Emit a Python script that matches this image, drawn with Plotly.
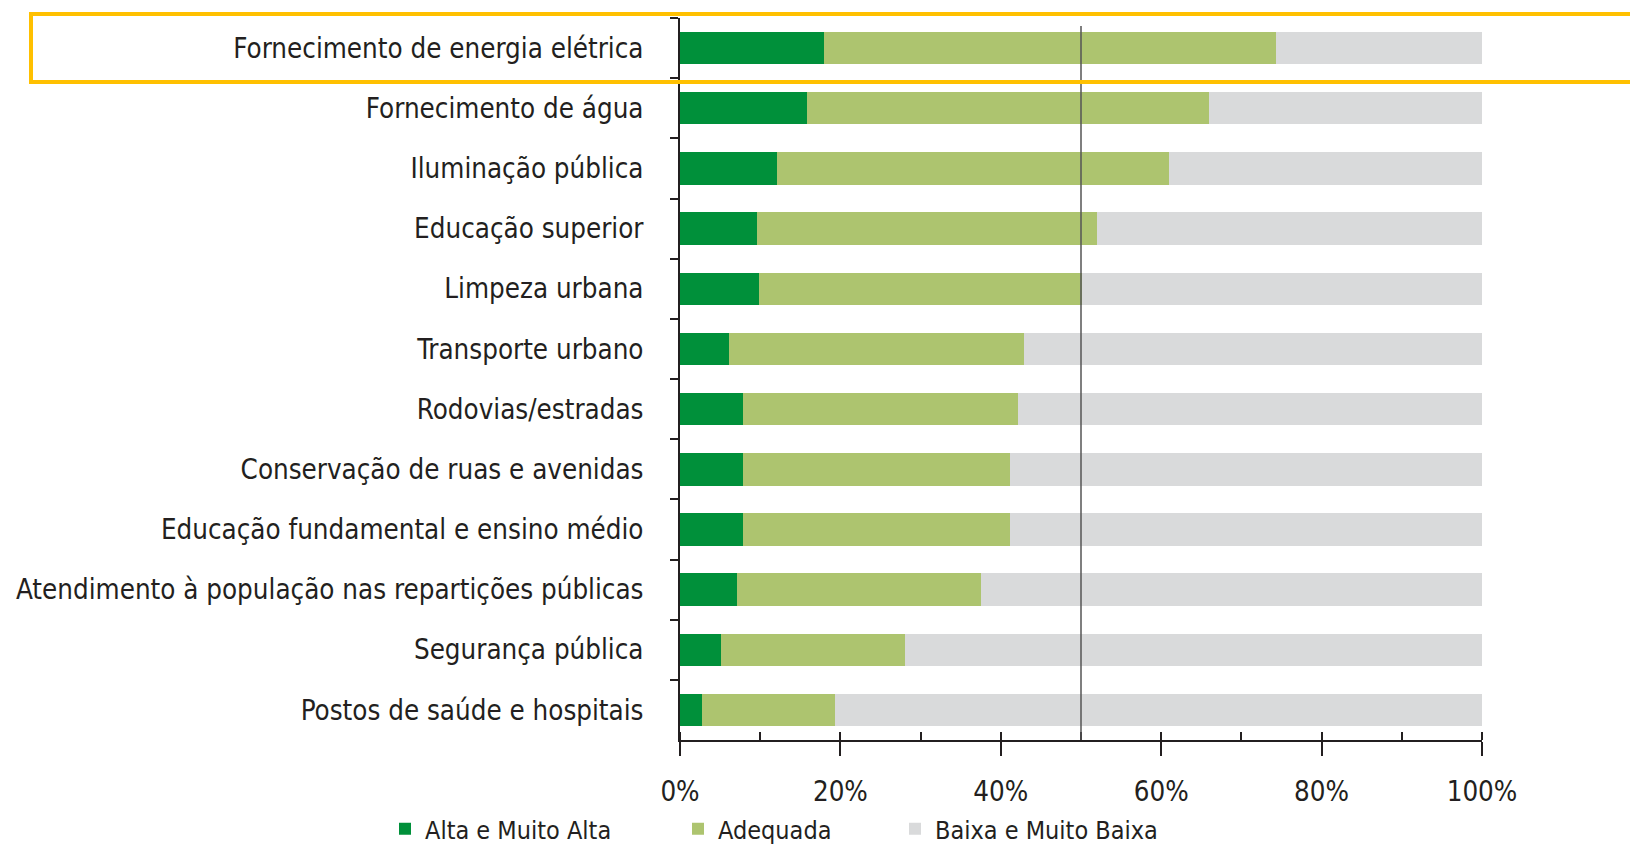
import plotly.graph_objects as go

categories = [
    "Fornecimento de energia elétrica",
    "Fornecimento de água",
    "Iluminação pública",
    "Educação superior",
    "Limpeza urbana",
    "Transporte urbano",
    "Rodovias/estradas",
    "Conservação de ruas e avenidas",
    "Educação fundamental e ensino médio",
    "Atendimento à população nas repartições públicas",
    "Segurança pública",
    "Postos de saúde e hospitais",
]
alta = [18.0, 15.8, 12.1, 9.6, 9.9, 6.1, 7.8, 7.8, 7.8, 7.1, 5.1, 2.8]
adequada = [56.3, 50.2, 48.9, 42.4, 40.2, 36.8, 34.4, 33.4, 33.4, 30.4, 22.9, 16.5]
baixa = [25.7, 34.0, 39.0, 48.0, 49.9, 57.1, 57.8, 58.8, 58.8, 62.5, 72.0, 80.7]
series_names = ["Alta e Muito Alta", "Adequada", "Baixa e Muito Baixa"]
x_ticks = [0, 20, 40, 60, 80, 100]
x_ticklabels = ["0%", "20%", "40%", "60%", "80%", "100%"]

colors = ["#00903A", "#ADC46F", "#D9DADB"]
FONT = "Liberation Sans Narrow, DejaVu Sans Condensed, Arial Narrow, sans-serif"
TXT = "#231F20"

fig = go.Figure()
legends = ["legend", "legend2", "legend3"]
for vals, name, col, lg in zip([alta, adequada, baixa], series_names, colors, legends):
    fig.add_trace(go.Bar(
        y=categories, x=vals, name=name, orientation="h",
        marker=dict(color=col, line=dict(width=0)),
        legend=lg,
    ))

L, R, T, B = 680, 148, 18, 108
W, H = 1630, 848
pw = W - L - R
ph = H - T - B

def px_to_paper_x(px):
    return (px - L) / pw

def px_to_paper_y(py):
    return (H - B - py) / ph

fig.update_layout(
    width=W, height=H,
    margin=dict(l=L, r=R, t=T, b=B, pad=0, autoexpand=False),
    barmode="stack",
    bargap=0.46,
    plot_bgcolor="white", paper_bgcolor="white",
    font=dict(family=FONT, color=TXT, size=27.5),
    xaxis=dict(
        range=[0, 100], tickvals=x_ticks, ticktext=x_ticklabels,
        showgrid=False, zeroline=False, automargin=False,
        showline=True, linecolor="#231F20", linewidth=2,
        ticks="outside", ticklen=14, tickwidth=2, tickcolor="#231F20",
        minor=dict(ticks="inside", dtick=10, ticklen=8, tickwidth=1.5, tickcolor="#231F20"),
        tickfont=dict(size=27.5, family=FONT, color=TXT),
        ticklabelstandoff=12,
    ),
    yaxis=dict(
        autorange="reversed", showgrid=False, zeroline=False, automargin=False,
        showline=True, linecolor="#231F20", linewidth=2,
        ticks="outside", tickson="boundaries", ticklen=8, tickwidth=2, tickcolor="#231F20",
        tickfont=dict(size=27.5, family=FONT, color=TXT),
        ticklabelstandoff=29,
    ),
    showlegend=True,
)

leg_common = dict(orientation="h", yanchor="middle", xanchor="left",
                  font=dict(size=25, family=FONT, color=TXT), bgcolor="rgba(0,0,0,0)")
ly = px_to_paper_y(829)
fig.update_layout(
    legend=dict(x=px_to_paper_x(385), y=ly, **leg_common),
    legend2=dict(x=px_to_paper_x(678), y=ly, **leg_common),
    legend3=dict(x=px_to_paper_x(895), y=ly, **leg_common),
)

# 50% reference line
fig.add_shape(type="line", xref="x", yref="paper", x0=50, x1=50,
              y0=0, y1=px_to_paper_y(26), line=dict(color="#555555", width=1.5))

# highlight box around first row
fig.add_shape(type="rect", xref="paper", yref="paper",
              x0=px_to_paper_x(31), x1=px_to_paper_x(1640),
              y0=px_to_paper_y(82), y1=px_to_paper_y(14),
              line=dict(color="#FFC000", width=4), fillcolor="rgba(0,0,0,0)", layer="above")

fig.write_html("out.html", config={"displayModeBar": False},
               post_script="document.body.style.margin='0px';")
